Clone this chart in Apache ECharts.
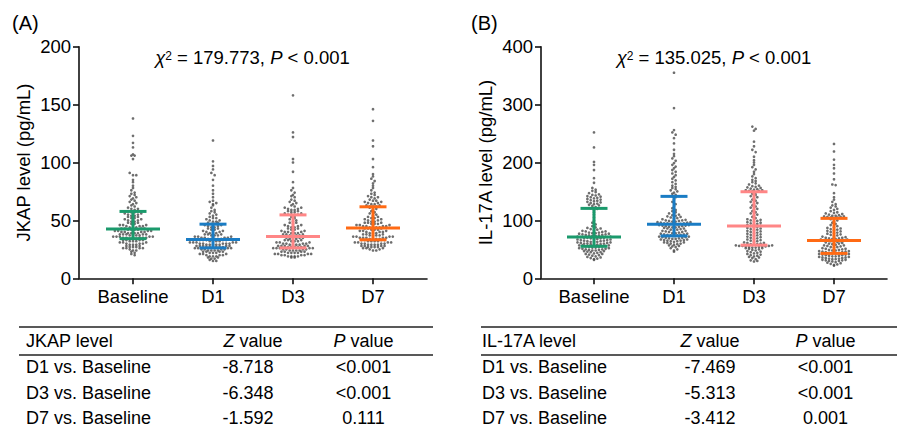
<!DOCTYPE html>
<html>
<head>
<meta charset="utf-8">
<script src="https://cdn.jsdelivr.net/npm/echarts@6/dist/echarts.min.js"></script>
<style>
  html, body { margin: 0; padding: 0; background: #fff; }
  #chart { width: 898px; height: 429px; }
</style>
</head>
<body>
<div id="chart"></div>
<script>
// ---- data -------------------------------------------------------------
const categories = ['Baseline', 'D1', 'D3', 'D7'];

// JKAP level (pg/mL), one value per patient
const jkapBaseline = [138,123,117,113,107,106,106,103,91,89,89,85,83,80,78,76,74,73,72,71,70,69,68,67,66,65,64,63,62,61,60,60,59,58,58,
  57,57,56,56,55,55,54,54,53,53,52,52,51,51,50,50,49,49,48,48,47,47,46,46,46,45,45,45,44,44,44,43,43,43,43,
  42,42,42,42,41,41,41,41,40,40,40,40,39,39,39,39,38,38,38,38,38,37,37,37,37,36,36,36,36,36,35,35,35,35,35,
  34,34,34,33,33,33,33,32,32,32,31,31,31,30,30,30,29,29,29,28,28,27,27,27,26,26,26,26,25,24,24,23,22,21,20];
const jkapD1 = [119,101,97,94,91,89,85,80,76,73,70,67,66,65,64,63,61,59,58,57,56,55,54,53,52,52,51,50,50,49,49,48,48,47,47,
  46,46,45,45,44,44,43,43,42,42,41,41,40,40,39,39,39,38,38,38,37,37,37,36,36,36,35,35,35,35,34,34,34,34,34,
  33,33,33,33,33,32,32,32,32,31,31,31,31,31,30,30,30,30,30,29,29,29,29,29,28,28,28,28,28,27,27,27,27,27,27,
  26,26,26,26,25,25,25,25,24,24,24,24,23,23,23,23,22,22,22,21,21,21,20,20,20,19,19,19,18,18,17,17,16,15,15];
const jkapD3 = [158,126,122,103,100,92,83,78,76,74,72,71,70,68,67,66,65,64,63,62,61,61,60,60,59,59,58,58,57,57,56,56,55,55,55,
  54,53,52,51,50,49,48,48,47,46,46,45,45,44,44,43,43,42,42,41,41,40,40,40,39,39,39,38,38,38,37,37,37,37,36,
  36,36,35,35,35,34,34,34,33,33,33,32,32,32,31,31,31,30,30,30,30,29,29,29,29,28,28,28,28,28,27,27,27,27,27,
  26,26,26,26,26,25,25,25,25,24,24,24,24,23,23,23,23,22,22,22,22,21,21,21,21,20,20,20,20,19,19,19,19,18,18];
const jkapD7 = [146,136,119,114,103,96,90,88,86,84,82,80,78,76,74,73,72,71,70,70,69,68,67,67,66,66,65,65,64,64,63,63,62,62,62,
  61,60,59,58,57,56,55,54,53,53,52,52,51,51,50,50,49,49,48,48,48,47,47,47,46,46,46,45,45,45,45,44,44,44,44,
  43,43,43,42,42,42,41,41,41,40,40,40,39,39,39,38,38,38,37,37,37,37,36,36,36,36,35,35,35,35,35,34,34,34,34,
  33,33,33,33,32,32,32,32,31,31,31,31,30,30,30,30,29,29,29,29,28,28,28,28,27,27,27,27,26,26,26,25,25,24,24];

// IL-17A level (pg/mL), one value per patient
const il17aBaseline = [252,226,201,196,187,173,165,156,153,151,149,147,145,144,143,142,141,140,139,138,137,136,135,134,133,132,131,130,129,128,127,126,125,123,121,
  120,118,114,110,105,100,96,93,90,88,87,86,85,84,83,82,81,81,80,79,79,78,78,77,77,76,76,75,75,74,74,73,73,72,72,
  71,71,70,70,70,69,69,68,68,67,67,66,66,65,65,64,64,63,63,63,62,62,61,61,60,60,60,59,59,58,58,57,57,57,56,
  55,55,54,54,53,53,52,52,51,51,50,50,49,49,48,48,47,47,46,45,45,44,43,42,42,41,40,39,38,37,36,35,34,33,32];
const il17aD1 = [355,294,256,252,248,242,233,222,215,211,207,203,199,196,193,190,187,184,181,178,175,172,169,166,163,160,158,156,154,152,150,148,146,144,142,
  140,136,132,128,124,121,118,116,114,112,110,109,108,107,106,105,104,103,102,101,100,100,99,99,98,98,97,97,96,96,95,95,95,94,94,
  93,93,92,92,91,91,90,90,89,89,88,88,87,86,86,85,84,84,83,82,82,81,80,80,79,78,78,77,77,76,76,75,75,74,74,
  73,72,72,71,71,70,70,69,69,68,68,67,67,66,66,65,65,64,64,63,62,62,61,60,60,59,58,57,56,55,54,52,50,48,46];
const il17aD3 = [262,258,255,236,228,222,218,210,204,200,196,192,188,184,180,176,173,170,168,166,164,162,160,159,158,157,156,155,154,153,152,152,151,151,150,
  148,146,144,142,140,138,136,134,132,130,128,126,124,122,120,118,116,114,112,110,108,106,104,102,101,100,99,98,97,96,95,94,93,92,91,
  90,89,88,87,86,85,84,83,82,81,80,79,78,77,76,75,74,73,72,71,70,69,68,67,66,65,64,63,62,61,61,60,59,59,58,
  57,57,56,56,56,55,55,55,54,54,53,53,52,52,51,50,49,48,47,46,45,44,43,42,41,40,39,38,37,36,35,33,31,30,29];
const il17aD7 = [232,219,205,196,190,181,171,162,161,147,140,136,132,128,126,124,122,120,118,116,114,113,112,111,110,109,108,108,107,107,106,106,105,105,104,
  102,100,98,96,94,92,90,88,87,86,85,84,83,82,81,80,79,78,77,76,75,74,73,72,71,70,70,69,69,68,68,67,67,66,66,
  65,64,64,63,63,62,61,60,60,59,58,57,57,56,55,54,54,53,52,51,51,50,49,49,48,48,47,47,46,46,45,45,44,44,43,
  43,42,42,41,41,40,40,39,39,38,38,37,37,36,36,35,35,34,34,33,33,32,32,31,31,30,30,29,28,27,26,25,24,23,22];

const jkapGroups = [jkapBaseline, jkapD1, jkapD3, jkapD7];
const il17aGroups = [il17aBaseline, il17aD1, il17aD3, il17aD7];

const jkapTitle = '179.773';
const il17aTitle = '135.025';
const jkapTicks = { max: 200, interval: 50 };
const il17aTicks = { max: 400, interval: 100 };

// pairwise comparisons against baseline
const comparisons = ['D1 vs. Baseline', 'D3 vs. Baseline', 'D7 vs. Baseline'];
const jkapZ = ['-8.718', '-6.348', '-1.592'];
const jkapP = ['<0.001', '<0.001', '0.111'];
const il17aZ = ['-7.469', '-5.313', '-3.412'];
const il17aP = ['<0.001', '<0.001', '0.001'];

// ---- styling / layout --------------------------------------------------
const FONT = 'Liberation Sans, Arial, Helvetica, sans-serif';
const FS = 18.5;
const TABLE_FS = 18;
const groupColors = ['#1b9a6c', '#1a7cc4', '#ff8686', '#ff6a14'];
const dotColor = '#4a4a4a';
const GRID_TOP = 46.7, GRID_H = 231.6;
const CAT_PX = 80;          // pixel distance between group centres
const ROW_PX = 2.9;         // vertical bin height of the swarm
const COL_PX = 3.3;         // horizontal spacing between dots of one bin

const panels = [
  { left: 79, width: 348, xmin: -0.675, groups: jkapGroups, ticks: jkapTicks, name: 'JKAP level (pg/mL)' },
  { left: 541, width: 346, xmin: -0.6625, groups: il17aGroups, ticks: il17aTicks, name: 'IL-17A level (pg/mL)' }
];

// quantile with the (n+1)p rule
function quantile(sorted, p) {
  const n = sorted.length;
  let pos = p * (n + 1);
  pos = Math.min(Math.max(pos, 1), n);
  const lo = Math.floor(pos), f = pos - lo;
  if (lo >= n) return sorted[n - 1];
  return sorted[lo - 1] + f * (sorted[lo] - sorted[lo - 1]);
}

// scatter dot swarm: values binned by rows, spread symmetrically around the group centre
function swarm(values, catIndex, pxPerUnit) {
  const sorted = values.slice().sort((a, b) => a - b);
  const bins = new Map();
  sorted.forEach(v => {
    const b = Math.round(v * pxPerUnit / ROW_PX);
    if (!bins.has(b)) bins.set(b, []);
    bins.get(b).push(v);
  });
  const pts = [];
  bins.forEach(list => {
    const k = list.length;
    const slots = [];
    for (let j = 0; j < k; j++) slots.push(j - (k - 1) / 2);
    slots.sort((a, b) => Math.abs(a) - Math.abs(b) || b - a);
    list.forEach((v, j) => pts.push([catIndex + slots[j] * COL_PX / CAT_PX, v]));
  });
  return pts;
}

const axisLineStyle = { color: '#111', width: 1.6 };
const labelStyle = { color: '#000', fontFamily: FONT, fontSize: FS };

const grid = [], xAxis = [], yAxis = [], series = [];
panels.forEach((pn, pi) => {
  grid.push({ left: pn.left, top: GRID_TOP, width: pn.width, height: GRID_H });
  xAxis.push({
    gridIndex: pi, type: 'value', min: pn.xmin, max: pn.xmin + pn.width / CAT_PX,
    axisLine: { show: true, onZero: false, lineStyle: axisLineStyle },
    axisTick: { show: true, length: 6, customValues: [0, 1, 2, 3], lineStyle: axisLineStyle },
    axisLabel: { show: true, customValues: [0, 1, 2, 3], formatter: v => categories[Math.round(v)], margin: 9, ...labelStyle },
    splitLine: { show: false }
  });
  yAxis.push({
    gridIndex: pi, type: 'value', min: 0, max: pn.ticks.max, interval: pn.ticks.interval,
    name: pn.name, nameLocation: 'middle', nameGap: 46, nameRotate: 90,
    nameTextStyle: { ...labelStyle },
    axisLine: { show: true, onZero: false, lineStyle: axisLineStyle },
    axisTick: { show: true, length: 6, lineStyle: axisLineStyle },
    axisLabel: { show: true, margin: 8, ...labelStyle },
    splitLine: { show: false }
  });
  const pxPerUnit = GRID_H / pn.ticks.max;
  const bars = [];
  pn.groups.forEach((vals, gi) => {
    series.push({
      type: 'scatter', xAxisIndex: pi, yAxisIndex: pi, silent: true,
      symbol: 'circle', symbolSize: 2.7, itemStyle: { color: dotColor },
      data: swarm(vals, gi, pxPerUnit), z: 2
    });
    const s = vals.slice().sort((a, b) => a - b);
    bars.push([gi, quantile(s, 0.25), quantile(s, 0.5), quantile(s, 0.75)]);
  });
  // median with interquartile range
  series.push({
    type: 'custom', xAxisIndex: pi, yAxisIndex: pi, silent: true, z: 5,
    data: bars,
    renderItem(params, api) {
      const x = api.value(0);
      const q1 = api.coord([x, api.value(1)]);
      const md = api.coord([x, api.value(2)]);
      const q3 = api.coord([x, api.value(3)]);
      const st = { stroke: groupColors[params.dataIndex], lineWidth: 3 };
      const cx = q1[0];
      return {
        type: 'group',
        children: [
          { type: 'line', shape: { x1: cx, y1: q1[1], x2: cx, y2: q3[1] }, style: st },
          { type: 'line', shape: { x1: cx - 13.5, y1: q1[1], x2: cx + 13.5, y2: q1[1] }, style: st },
          { type: 'line', shape: { x1: cx - 13.5, y1: q3[1], x2: cx + 13.5, y2: q3[1] }, style: st },
          { type: 'line', shape: { x1: cx - 27, y1: md[1], x2: cx + 27, y2: md[1] }, style: st }
        ]
      };
    }
  });
});

// ---- titles, panel letters and comparison tables -----------------------
function richFor(fs) {
  return {
    n: { fontFamily: FONT, fontSize: fs, fill: '#000' },
    i: { fontFamily: FONT, fontSize: fs, fontStyle: 'italic', fill: '#000' },
    s: { fontFamily: FONT, fontSize: 12, fill: '#000', verticalAlign: 'top', lineHeight: 12 }
  };
}
function txt(x, y, text, align, fs) {
  const size = fs || FS;
  return {
    type: 'text', x, y, silent: true,
    style: { text, rich: richFor(size), fontFamily: FONT, fontSize: size, fill: '#000',
             align: align || 'left', verticalAlign: 'middle', lineHeight: 14 }
  };
}
function hline(x1, x2, y) {
  return { type: 'line', silent: true, shape: { x1, y1: y, x2, y2: y }, style: { stroke: '#222', lineWidth: 1.5 } };
}
const graphic = [
  txt(12, 23, '(A)', 'left', 20), txt(471, 23, '(B)', 'left', 20),
  txt(252.5, 57, '{i|χ}{s|2}{n| = ' + jkapTitle + ', }{i|P}{n| < 0.001}', 'center'),
  txt(714, 57, '{i|χ}{s|2}{n| = ' + il17aTitle + ', }{i|P}{n| < 0.001}', 'center')
];
const tables = [
  { x1: 19, x2: 433, labelX: 26, zX: 248, zHeadX: 253, pX: 363.5, head: 'JKAP level', z: jkapZ, p: jkapP },
  { x1: 481, x2: 897, labelX: 482, zX: 710, zHeadX: 710, pX: 825.5, head: 'IL-17A level', z: il17aZ, p: il17aP }
];
const rowY = [367, 393, 417.5];
tables.forEach(t => {
  graphic.push(hline(t.x1, t.x2, 327), hline(t.x1, t.x2, 355));
  graphic.push(txt(t.labelX, 341, t.head, 'left', TABLE_FS));
  graphic.push(txt(t.zHeadX, 341, '{i|Z}{n| value}', 'center', TABLE_FS));
  graphic.push(txt(t.pX, 341, '{i|P}{n| value}', 'center', TABLE_FS));
  comparisons.forEach((c, r) => {
    graphic.push(txt(t.labelX, rowY[r], c, 'left', TABLE_FS));
    graphic.push(txt(t.zX, rowY[r], t.z[r], 'center', TABLE_FS));
    graphic.push(txt(t.pX, rowY[r], t.p[r], 'center', TABLE_FS));
  });
});

const chart = echarts.init(document.getElementById('chart'), null, { renderer: 'svg' });
chart.setOption({
  animation: false,
  backgroundColor: '#fff',
  grid, xAxis, yAxis, series, graphic
});
</script>
</body>
</html>
